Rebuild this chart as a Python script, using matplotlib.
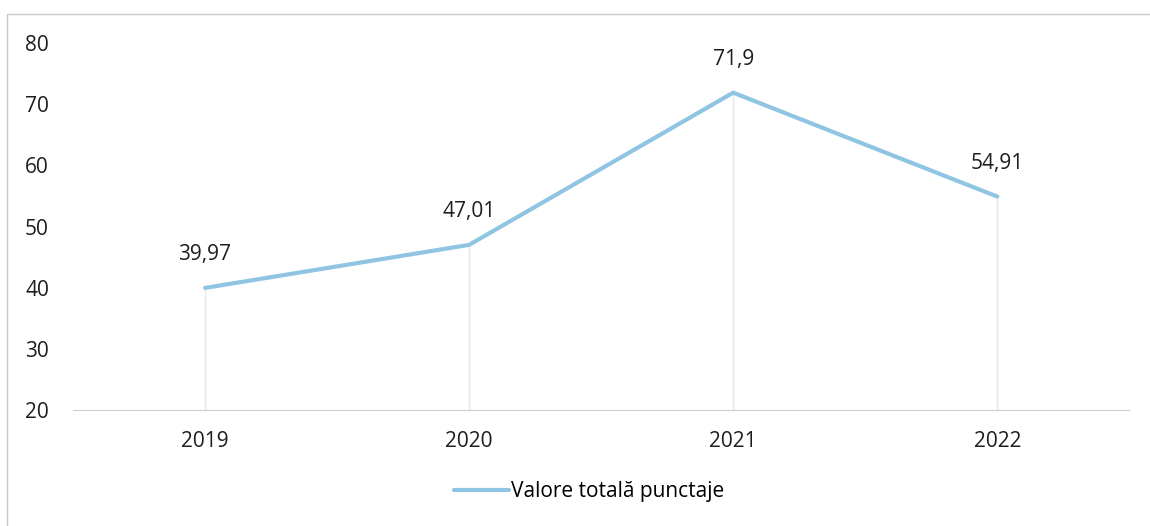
import matplotlib.pyplot as plt
from matplotlib.patches import Rectangle

years = ["2019", "2020", "2021", "2022"]
values = [39.97, 47.01, 71.9, 54.91]
labels = ["39,97", "47,01", "71,9", "54,91"]

plt.rcParams['font.family'] = ['Open Sans', 'DejaVu Sans']

fig = plt.figure(figsize=(11.5, 5.26), dpi=100)
ax = fig.add_axes([0.0635, 0.2205, 0.9185, 0.6975])

x = list(range(len(years)))
line_color = "#8fc5e2"

# faint drop lines under each point
for xi, v in zip(x, values):
    ax.plot([xi, xi], [20, v], color="#e8e8e8", lw=1, zorder=1)

ax.plot(x, values, color=line_color, lw=3.0, solid_capstyle="round",
        label="Valore totală punctaje", zorder=3)

for xi, v, lab in zip(x, values, labels):
    ax.annotate(lab, (xi, v), xytext=(0, 24), textcoords="offset points",
                ha="center", va="center", fontsize=15, color="#1e1e1e")

ax.set_xlim(-0.5, 3.5)
ax.set_ylim(20, 80)
ax.set_yticks(range(20, 81, 10))
ax.set_xticks(x)
ax.set_xticklabels(years)
ax.tick_params(axis="both", length=0, labelsize=15, colors="#1e1e1e")
ax.tick_params(axis="y", pad=34.5)
ax.tick_params(axis="x", pad=15)
for lab in ax.get_yticklabels():
    lab.set_horizontalalignment("left")

for s in ["top", "right", "left"]:
    ax.spines[s].set_visible(False)
ax.spines["bottom"].set_color("#cfcfcf")

leg = fig.legend(loc="center", bbox_to_anchor=(0.512, 0.065), frameon=False,
                 fontsize=15, handlelength=2.65, handletextpad=0.1)

fig.patches.append(Rectangle((0.006, -0.05), 1.2, 1.023, transform=fig.transFigure,
                             fill=False, edgecolor="#c8c8c8", lw=1))

fig.savefig("out.png", dpi=100)
